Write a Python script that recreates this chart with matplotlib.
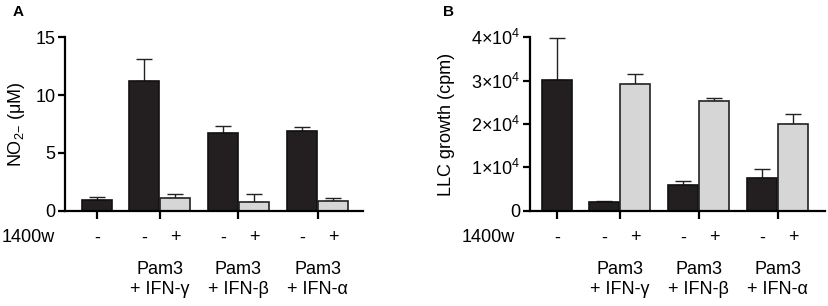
import numpy as np
import matplotlib
matplotlib.use('Agg')
import matplotlib.pyplot as plt
from matplotlib.transforms import blended_transform_factory

plt.rcParams['font.family'] = ['Liberation Sans', 'DejaVu Sans']
plt.rcParams['mathtext.fontset'] = 'custom'
plt.rcParams['mathtext.rm'] = 'Liberation Sans'
plt.rcParams['mathtext.it'] = 'Liberation Sans:italic'
plt.rcParams['font.size'] = 13

# data
ifn_names = ['+ IFN-γ', '+ IFN-β', '+ IFN-α']

no2_black = [0.9, 11.2, 6.75, 6.93]
no2_black_err = [0.32, 1.9, 0.58, 0.27]
no2_gray = [1.08, 0.72, 0.85]
no2_gray_err = [0.35, 0.7, 0.24]

llc_black = [3.01e4, 0.19e4, 0.59e4, 0.75e4]
llc_black_err = [0.97e4, 0.04e4, 0.1e4, 0.21e4]
llc_gray = [2.92e4, 2.52e4, 2.01e4]
llc_gray_err = [0.23e4, 0.07e4, 0.23e4]

centers = np.array([0, 2.08, 4.71, 7.35])
off = 0.52
black_x = np.concatenate([[centers[0]], centers[1:] - off])
gray_x = centers[1:] + off

W, H = 829, 306
fig = plt.figure(figsize=(W / 100, H / 100), dpi=100)


def panel(left, xlim, black, black_err, gray, gray_err, ylim, yticks, yticklabels, ylabel,
          letter, letter_x, label_x, w_x):
    ax = fig.add_axes([left / W, 1 - 210.7 / H, (xlim[1] - xlim[0]) * 30 / W, 173.4 / H])
    ax.bar(black_x, black, width=1.0, color='#231f20', edgecolor='#111111', linewidth=1.2, zorder=2)
    ax.bar(gray_x, gray, width=1.0, color='#d6d6d6', edgecolor='#222222', linewidth=1.2, zorder=2)
    ax.errorbar(black_x, black, yerr=[np.zeros(len(black)), black_err], fmt='none',
                ecolor='#222222', elinewidth=1.0, capsize=6, capthick=1.0, zorder=1)
    ax.errorbar(gray_x, gray, yerr=[np.zeros(len(gray)), gray_err], fmt='none',
                ecolor='#222222', elinewidth=1.0, capsize=6, capthick=1.0, zorder=1)
    ax.set_xlim(*xlim)
    ax.set_ylim(*ylim)
    ax.set_yticks(yticks)
    ax.set_yticklabels(yticklabels)
    ax.set_xticks(centers)
    ax.set_xticklabels([])
    for s in ['top', 'right']:
        ax.spines[s].set_visible(False)
    for s in ['left', 'bottom']:
        ax.spines[s].set_linewidth(1.6)
    ax.tick_params(axis='both', width=1.6, length=5, direction='out', pad=2)
    ax.tick_params(axis='x', length=6)
    fig.text(label_x / W, 1 - 124 / H, ylabel, rotation=90, ha='center', va='center')
    fig.text(letter_x / W, 1 - 12 / H, letter, fontweight='bold', fontsize=11, ha='center', va='center')

    tr = blended_transform_factory(ax.transData, fig.transFigure)
    fig.text(w_x / W, 1 - 238 / H, '1400w', ha='left', va='center')
    for x in black_x:
        ax.text(x, 1 - 238 / H, '-', transform=tr, ha='center', va='center')
    for x in gray_x:
        ax.text(x, 1 - 238 / H, '+', transform=tr, ha='center', va='center')
    for c, name in zip(centers[1:], ifn_names):
        ax.text(c, 1 - 269 / H, 'Pam3', transform=tr, ha='center', va='center')
        ax.text(c, 1 - 290 / H, name, transform=tr, ha='center', va='center')
    return ax


panel(65, (-1.07, 8.87), no2_black, no2_black_err, no2_gray, no2_gray_err,
      (0, 15), [0, 5, 10, 15], ['0', '5', '10', '15'], r'NO$_{2\mathrm{-}}$ (μM)',
      'A', 18, 17, 2)

panel(530, (-0.91, 8.93), llc_black, llc_black_err, llc_gray, llc_gray_err,
      (0, 4e4), [0, 1e4, 2e4, 3e4, 4e4],
      ['0', r'1$\times$10$^4$', r'2$\times$10$^4$', r'3$\times$10$^4$', r'4$\times$10$^4$'],
      'LLC growth (cpm)', 'B', 449, 447, 462)

fig.savefig('out.png', dpi=100)
